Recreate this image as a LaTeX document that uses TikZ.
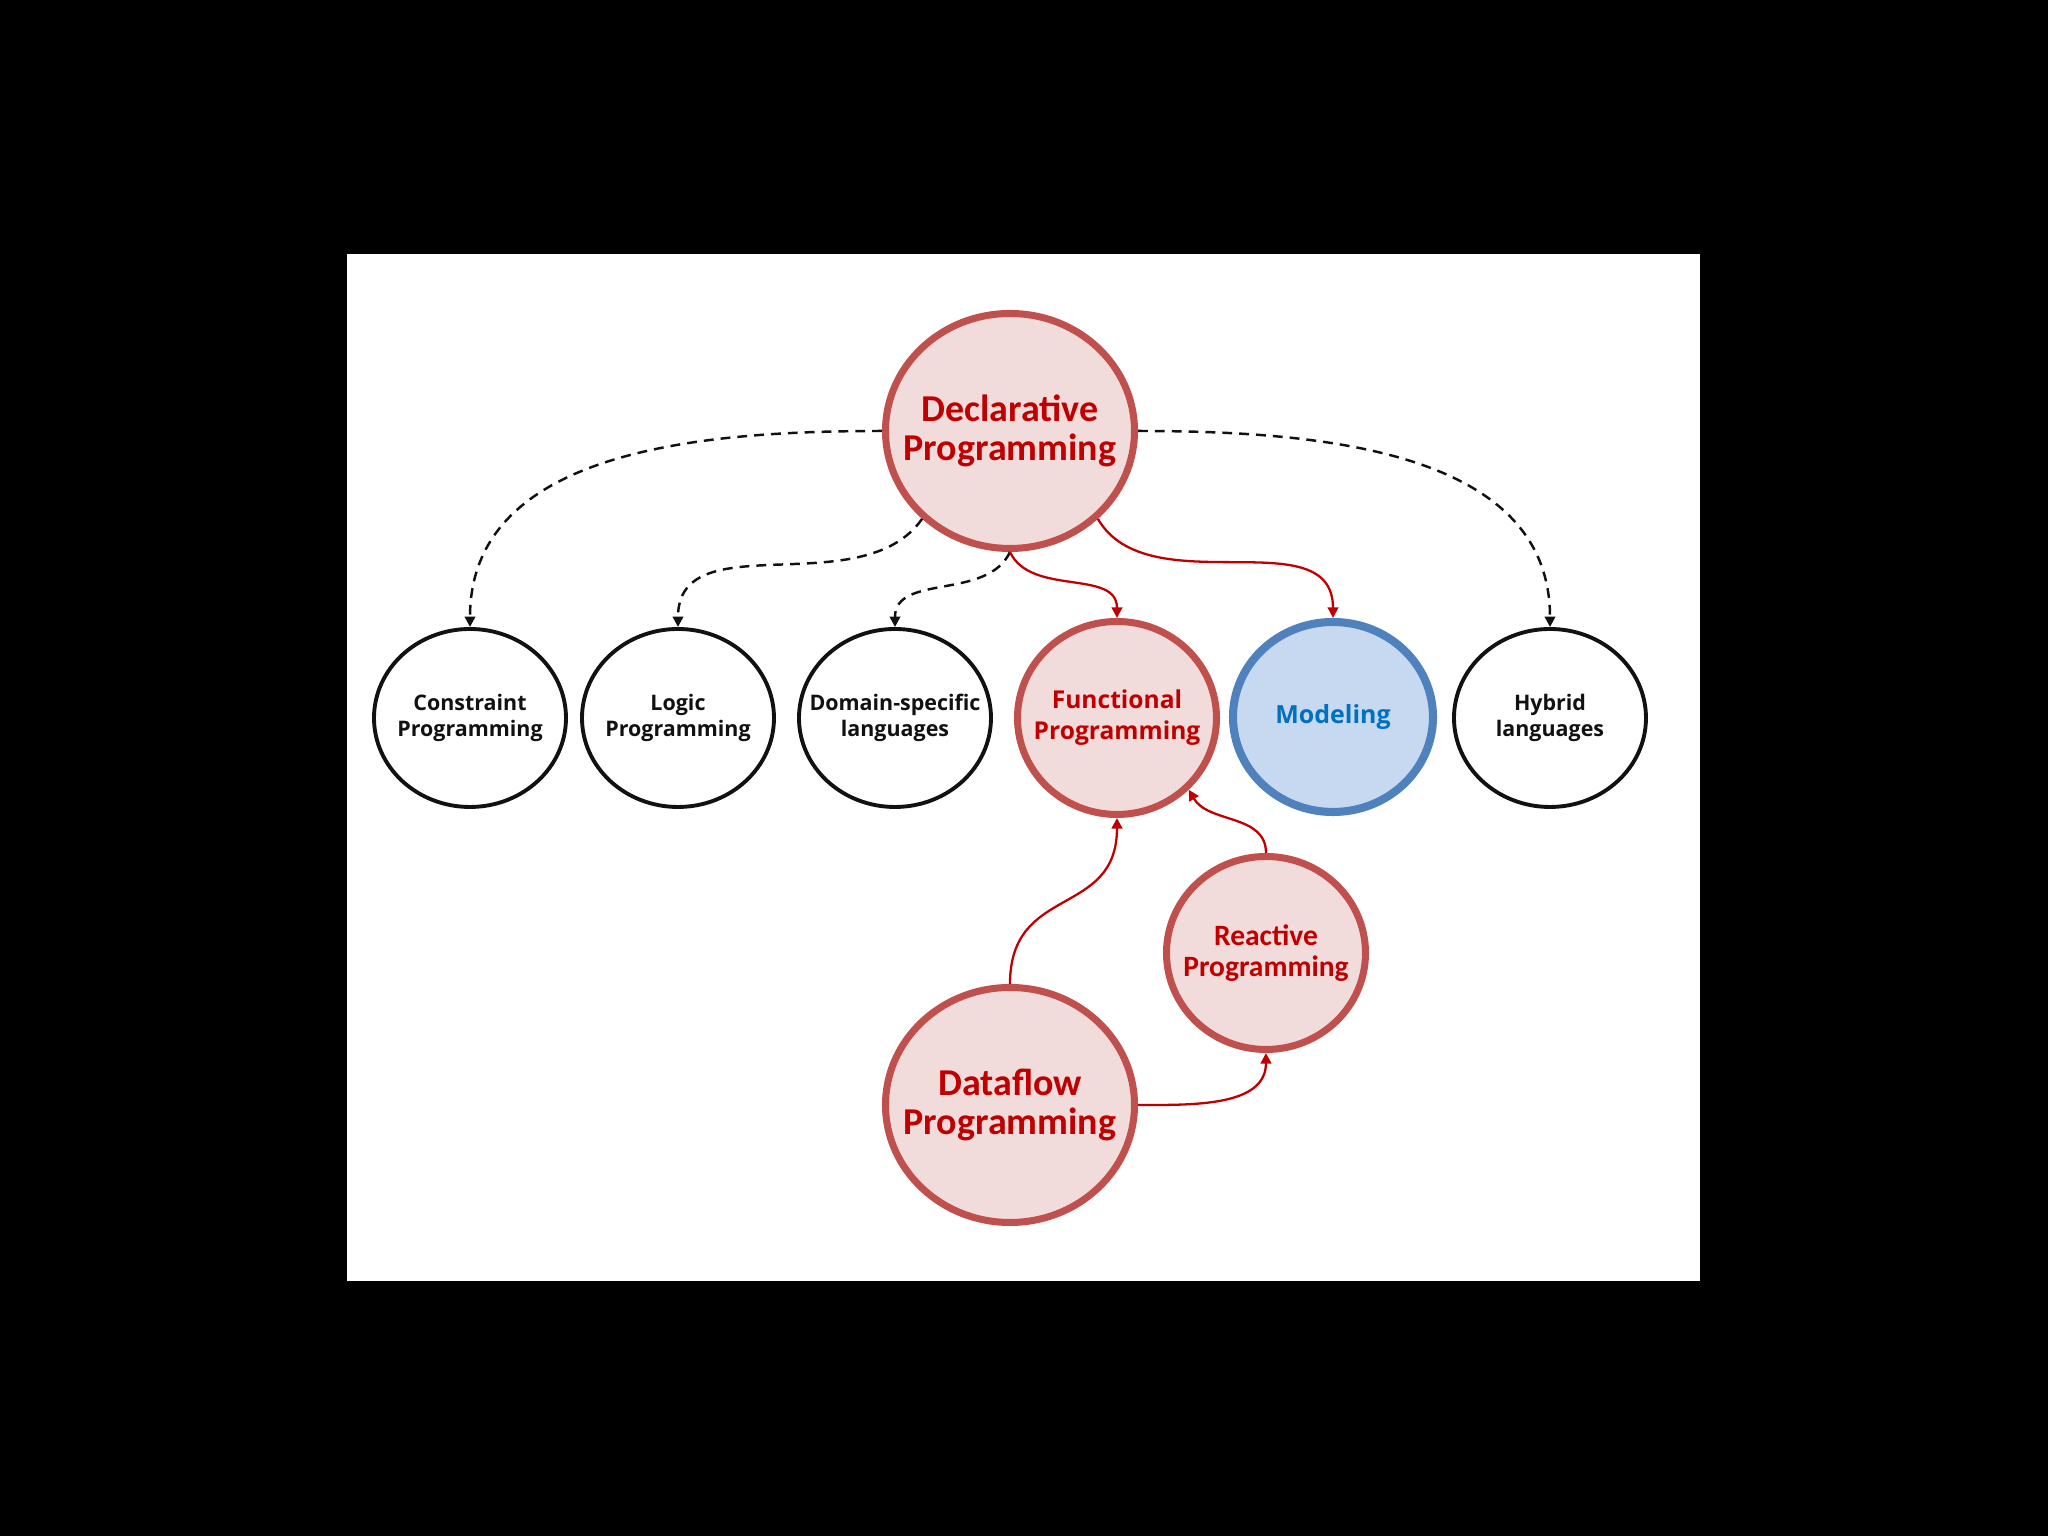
\documentclass[tikz,border=0pt]{standalone}
\usepackage{fontspec}
\usetikzlibrary{shapes.geometric, arrows.meta}
\newfontfamily\paraheavy{Carlito}
\newfontfamily\paraplain{Open Sans}
\definecolor{paraink}{HTML}{111111}
\definecolor{pararim}{HTML}{C0504D}
\definecolor{parafill}{HTML}{F2DCDB}
\definecolor{paratext}{HTML}{C00000}
\definecolor{parablue}{HTML}{4F81BD}
\definecolor{parabluefill}{HTML}{C6D9F1}
\definecolor{parabluetext}{HTML}{0070C0}
\tikzset{
  para shape/.style={ellipse, inner xsep=-1.2cm, inner ysep=-0.6cm,
    align=center},
  para plain/.style={para shape, draw=paraink, line width=1.1pt, fill=white,
    minimum width=1.92cm, minimum height=1.78cm, text=paraink,
    font={\paraplain\bfseries\fontsize{6.1}{7.4}\selectfont}},
  para red/.style={para shape, draw=pararim, line width=2pt, fill=parafill,
    text=paratext},
  para big/.style={para red, minimum width=2.49cm, minimum height=2.35cm,
    font={\paraheavy\bfseries\fontsize{10.8}{11.3}\selectfont}},
  para mid/.style={para red, minimum width=1.99cm, minimum height=1.93cm,
    font={\paraplain\bfseries\fontsize{7}{8.8}\selectfont}},
  para blue/.style={para shape, draw=parablue, line width=2.3pt,
    fill=parabluefill, minimum width=2.0cm, minimum height=1.9cm,
    text=parabluetext,
    font={\paraplain\bfseries\fontsize{7.1}{8.8}\selectfont}},
  para weak/.style={draw=paraink, line width=0.7pt,
    dash pattern=on 2.8pt off 2pt, -{Triangle[length=3pt, width=3pt]}},
  para link/.style={draw=paratext, line width=0.65pt,
    -{Triangle[length=3pt, width=3pt]}},
}

\begin{document}
\begin{tikzpicture}[x=1cm, y=1cm]
  \fill[black] (0,0) rectangle (20.48,15.36);
  \fill[white] (3.47,2.55) rectangle (17.00,12.82);

  \node[para big] (decl) at (10.10,11.05) {Declarative\\Programming};

  \node[para plain] (cons) at (4.70,8.18) {Constraint\\Programming};
  \node[para plain] (logic) at (6.78,8.18) {Logic\\Programming};
  \node[para plain] (dsl) at (8.95,8.18) {Domain-specific\\languages};
  \node[para mid] (func) at (11.17,8.18) {Functional\\Programming};
  \node[para blue] (model) at (13.33,8.19) {Modeling};
  \node[para plain] (hybrid) at (15.50,8.18) {Hybrid\\languages};

  \node[para mid, font={\paraheavy\bfseries\fontsize{8.4}{8.8}\selectfont}]
    (react) at (12.66,5.83) {Reactive\\Programming};
  \node[para big] (flow) at (10.10,4.31) {Dataflow\\Programming};

  \draw[para weak] (decl.west) to[out=180, in=90] (cons.north);
  \draw[para weak] (decl.225) to[out=-125, in=90] (logic.north);
  \draw[para weak] (decl.south) to[out=-115, in=90] (dsl.north);
  \draw[para link] (decl.south) to[out=-65, in=90] (func.north);
  \draw[para link] (decl.-45) to[out=-60, in=90] (model.north);
  \draw[para weak] (decl.east) to[out=0, in=90] (hybrid.north);

  \draw[para link] (flow.north) to[out=90, in=-90, looseness=1.3] (func.south);
  \draw[para link] (react.north) to[out=90, in=-60] (func.-45);
  \draw[para link] (flow.east) to[out=0, in=-90] (react.south);
\end{tikzpicture}
\end{document}
